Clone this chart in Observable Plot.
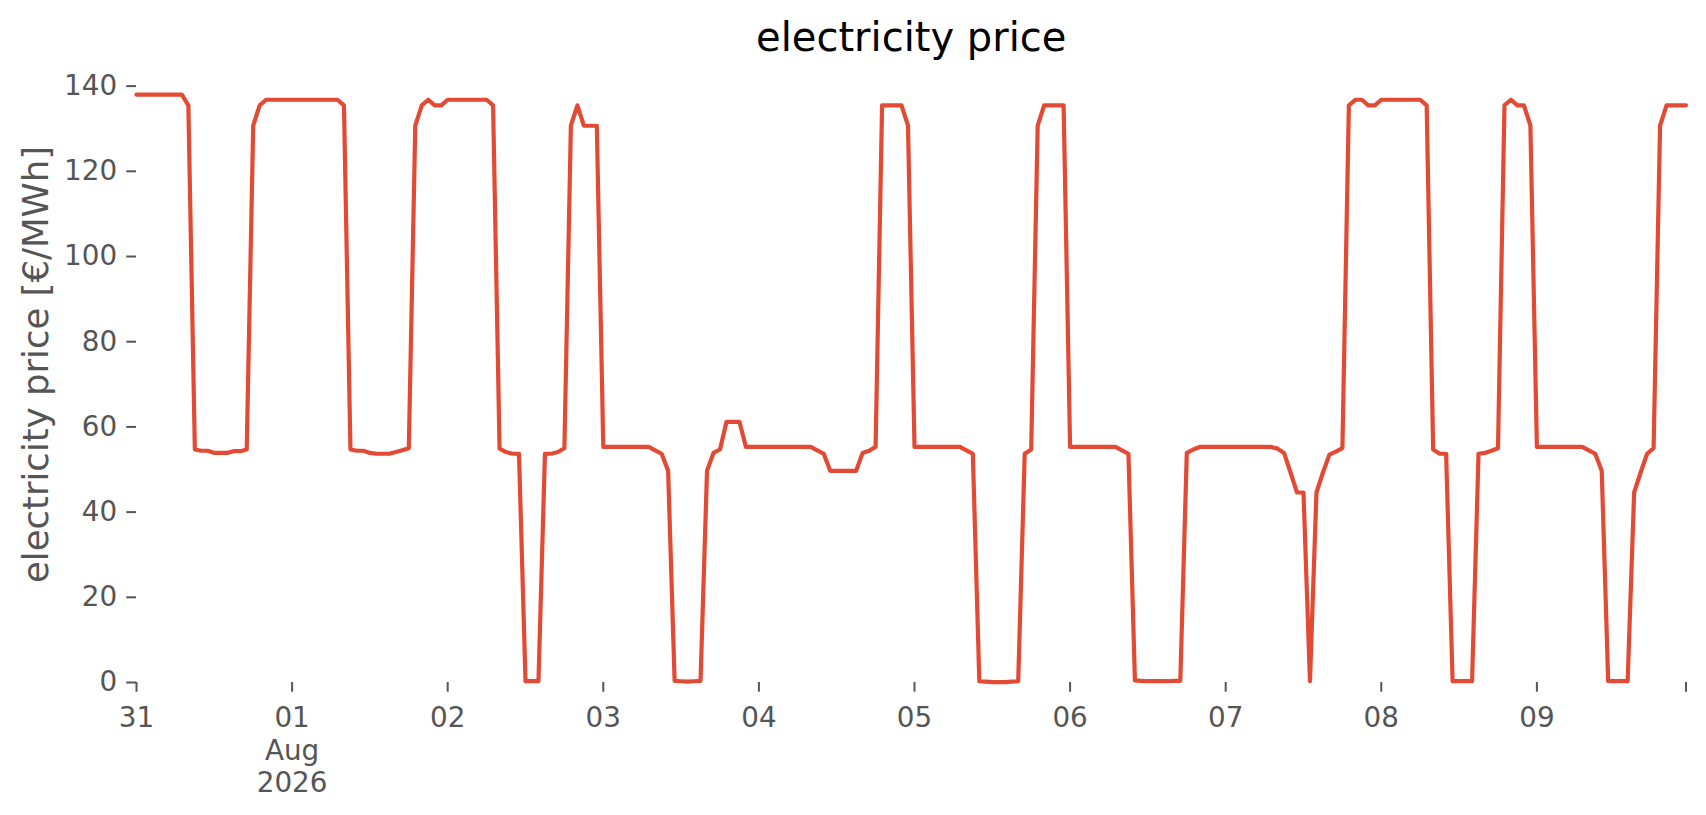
<!DOCTYPE html>
<html>
<head>
<meta charset="utf-8">
<script src="https://cdn.jsdelivr.net/npm/d3@7"></script>
<script src="https://cdn.jsdelivr.net/npm/@observablehq/plot@0.6"></script>
<style>
  html, body { margin: 0; padding: 0; background: #ffffff; }
  #chart { width: 1706px; height: 815px; }
</style>
</head>
<body>
<div id="chart"></div>
<script>
// Hourly electricity price [€/MWh], starting 2026-07-31 00:00
const startTime = Date.UTC(2026, 6, 31, 0, 0);
const prices = [
  // Jul 31
  138, 138, 138, 138, 138, 138, 138, 138, 135.5, 54.7, 54.4, 54.4,
  53.9, 53.9, 53.9, 54.3, 54.3, 54.7, 130.7, 135.5, 136.8, 136.8, 136.8, 136.8,
  // Aug 01
  136.8, 136.8, 136.8, 136.8, 136.8, 136.8, 136.8, 136.8, 135.5, 54.7, 54.4, 54.4,
  53.9, 53.7, 53.7, 53.7, 54.1, 54.5, 55.0, 130.7, 135.5, 136.8, 135.5, 135.5,
  // Aug 02
  136.8, 136.8, 136.8, 136.8, 136.8, 136.8, 136.8, 135.5, 54.9, 54.1, 53.7, 53.7,
  0.3, 0.3, 0.3, 53.7, 53.7, 54.1, 55.0, 130.7, 135.5, 130.7, 130.7, 130.7,
  // Aug 03
  55.3, 55.3, 55.3, 55.3, 55.3, 55.3, 55.3, 55.3, 54.5, 53.7, 49.7, 0.4,
  0.3, 0.2, 0.3, 0.4, 49.7, 53.9, 54.7, 61.2, 61.2, 61.2, 55.3, 55.3,
  // Aug 04
  55.3, 55.3, 55.3, 55.3, 55.3, 55.3, 55.3, 55.3, 55.3, 54.5, 53.7, 49.7,
  49.7, 49.7, 49.7, 49.7, 53.9, 54.4, 55.3, 135.5, 135.5, 135.5, 135.5, 130.7,
  // Aug 05
  55.3, 55.3, 55.3, 55.3, 55.3, 55.3, 55.3, 55.3, 54.5, 53.7, 0.3, 0.2,
  0.1, 0.1, 0.1, 0.2, 0.3, 53.7, 54.7, 130.7, 135.5, 135.5, 135.5, 135.5,
  // Aug 06
  55.3, 55.3, 55.3, 55.3, 55.3, 55.3, 55.3, 55.3, 54.5, 53.7, 0.5, 0.4,
  0.3, 0.3, 0.3, 0.3, 0.4, 0.4, 53.9, 54.7, 55.3, 55.3, 55.3, 55.3,
  // Aug 07
  55.3, 55.3, 55.3, 55.3, 55.3, 55.3, 55.3, 55.3, 54.9, 53.9, 49.3, 44.6,
  44.6, 0.3, 44.6, 49.3, 53.5, 54.2, 55.0, 135.5, 136.8, 136.8, 135.5, 135.5,
  // Aug 08
  136.8, 136.8, 136.8, 136.8, 136.8, 136.8, 136.8, 135.5, 54.7, 53.7, 53.7, 0.3,
  0.3, 0.3, 0.3, 53.7, 53.9, 54.4, 55.0, 135.5, 136.8, 135.5, 135.5, 130.7,
  // Aug 09
  55.3, 55.3, 55.3, 55.3, 55.3, 55.3, 55.3, 55.3, 54.5, 53.7, 49.7, 0.3,
  0.3, 0.3, 0.3, 44.6, 49.3, 53.7, 55.0, 130.7, 135.5, 135.5, 135.5, 135.5
];

// x tick positions (hours from start) and their labels
const tickHours = [0, 24, 48, 72, 96, 120, 144, 168, 192, 216, 239];
const tickLabels = ["31", "01\nAug\n2026", "02", "03", "04", "05", "06", "07", "08", "09", ""];
const yTicks = [0, 20, 40, 60, 80, 100, 120, 140];

const titleText = "electricity price";
const yLabelText = "electricity price [€/MWh]";

const hourMs = 3600 * 1000;
const data = prices.map((p, i) => ({date: new Date(startTime + i * hourMs), price: p}));
const tickDates = tickHours.map(h => new Date(startTime + h * hourMs));
const labelByTime = new Map(tickDates.map((d, i) => [+d, tickLabels[i]]));

const gray = "#555555";
const font = "DejaVu Sans";

const chart = Plot.plot({
  width: 1706,
  height: 815,
  marginLeft: 136,
  marginRight: 20.5,
  marginTop: 46,
  marginBottom: 133,
  style: {fontFamily: font, background: "#ffffff", overflow: "visible"},
  x: {type: "utc", domain: [data[0].date, data[data.length - 1].date]},
  y: {domain: [0, 149.3]},
  marks: [
    Plot.axisY({
      ticks: yTicks,
      tickSize: 9.7,
      tickPadding: 9.7,
      strokeWidth: 2,
      color: gray,
      fontSize: 27.8,
      label: null
    }),
    Plot.axisX({
      ticks: tickDates,
      tickFormat: d => labelByTime.get(+d) ?? "",
      tickSize: 9.7,
      tickPadding: 12,
      strokeWidth: 2,
      color: gray,
      fontSize: 27.8,
      lineHeight: 1.17,
      label: null
    }),
    Plot.line(data, {
      x: "date",
      y: "price",
      stroke: "#E24A33",
      strokeWidth: 4.2,
      strokeLinejoin: "round"
    }),
    Plot.text([titleText], {
      text: d => d,
      frameAnchor: "top",
      dy: -8,
      lineAnchor: "middle",
      textAnchor: "middle",
      fontSize: 40,
      fill: "#000000"
    }),
    Plot.text([yLabelText], {
      text: d => d,
      frameAnchor: "left",
      dx: -100,
      rotate: -90,
      lineAnchor: "middle",
      textAnchor: "middle",
      fontSize: 35.5,
      fill: gray
    })
  ]
});

document.getElementById("chart").appendChild(chart);
</script>
</body>
</html>
